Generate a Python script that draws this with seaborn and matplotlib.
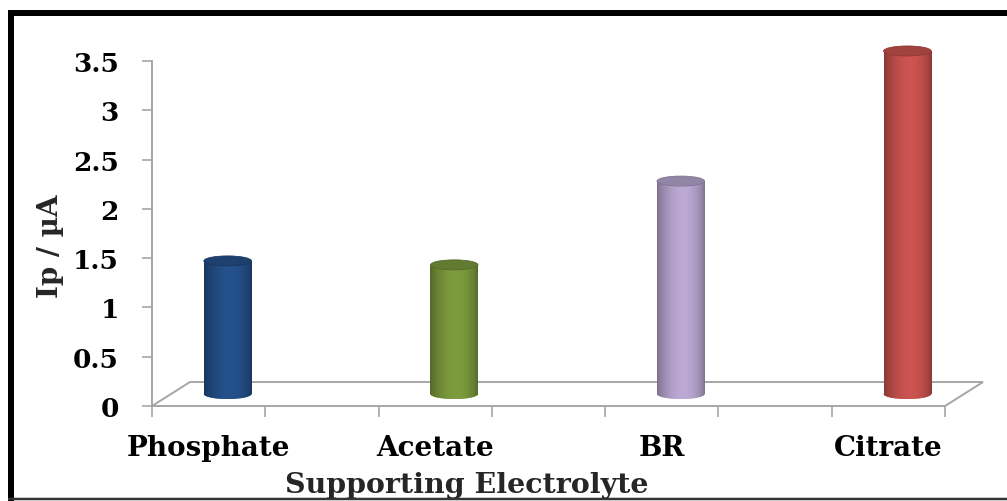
import numpy as np
import pandas as pd
import matplotlib
matplotlib.use("Agg")
import matplotlib.pyplot as plt
import matplotlib.transforms as mtransforms
from matplotlib.patches import Ellipse, Polygon, Rectangle
from matplotlib.lines import Line2D
from matplotlib.ticker import FixedLocator
from matplotlib.colors import to_rgb
import seaborn as sns

# ---- data ----
categories = ["Phosphate", "Acetate", "BR", "Citrate"]
peak_current = [1.35, 1.31, 2.16, 3.48]
bar_colors = ["#24508A", "#7A9A3C", "#B8A6D0", "#C9524F"]
y_ticks = [0, 0.5, 1, 1.5, 2, 2.5, 3, 3.5]
y_tick_labels = ["0", "0.5", "1", "1.5", "2", "2.5", "3", "3.5"]

sns.set_style("white")
plt.rcParams["font.family"] = ["DejaVu Serif"]
plt.rcParams["font.weight"] = "bold"
plt.rcParams["axes.labelweight"] = "bold"

W, H, DPI = 1007, 502, 100
fig = plt.figure(figsize=(W / DPI, H / DPI), dpi=DPI)
fig.patch.set_facecolor("white")

AX_L, AX_R, AX_T, AX_B = 152, 945, 62, 407
ax = fig.add_axes([AX_L / W, (H - AX_B) / H, (AX_R - AX_L) / W, (AX_B - AX_T) / H])

df = pd.DataFrame({"electrolyte": categories, "ip": peak_current})
sns.barplot(data=df, x="electrolyte", y="ip", hue="electrolyte",
            palette=bar_colors, width=0.21, saturation=1, legend=False,
            linewidth=0, ax=ax, zorder=3)
bars = sorted([p for p in ax.patches if isinstance(p, Rectangle)],
              key=lambda p: p.get_x())

X0, X1 = -0.25, 3.25
ax.set_xlim(X0, X1)
ax.set_ylim(0, 3.5)

# pixel size of one data unit (axes geometry is fixed)
px_x = (AX_R - AX_L) / (X1 - X0)
px_y = (AX_B - AX_T) / 3.5

# depth offsets of the pseudo-3D floor
mid = mtransforms.ScaledTranslation(19 / DPI, 12 / DPI, fig.dpi_scale_trans)
BACK_DX, BACK_DY = 38, 24

grey = "#A6A6A6"

# floor outline
floor = Polygon([(X0, 0), (X1, 0),
                 (X1 + BACK_DX / px_x, BACK_DY / px_y),
                 (X0 + BACK_DX / px_x, BACK_DY / px_y)],
                closed=True, fill=False, edgecolor=grey, lw=1.4,
                clip_on=False, zorder=1)
ax.add_patch(floor)


def cylinder_shade(rgb, n=96):
    t = np.linspace(0, 1, n)
    f = 0.68 + 0.34 * np.sin(np.pi * t ** 1.15) ** 0.7
    img = np.clip(np.array(rgb)[None, None, :] * f[None, :, None], 0, 1)
    return img


ell_h = 10 / px_y
for patch, val, col in zip(bars, peak_current, bar_colors):
    rgb = to_rgb(col)
    tr = ax.transData + mid
    patch.set_transform(tr)
    xl, w = patch.get_x(), patch.get_width()
    cx = xl + w / 2
    img = cylinder_shade(rgb)

    # bottom rim of the cylinder
    base = Ellipse((cx, 0), w, ell_h, transform=tr, facecolor=col,
                   edgecolor="none", zorder=2.9, clip_on=False)
    ax.add_patch(base)
    im_b = ax.imshow(img, extent=[xl, xl + w, -ell_h, ell_h], aspect="auto",
                     interpolation="bilinear", zorder=2.95)
    im_b.set_transform(tr)
    im_b.set_clip_path(base)

    # cylinder body
    im = ax.imshow(img, extent=[xl, xl + w, 0, val], aspect="auto",
                   interpolation="bilinear", zorder=3.1)
    im.set_transform(tr)
    im.set_clip_path(patch)
    patch.set_clip_on(False)

    # top cap
    cap_rgb = tuple(c * 0.8 for c in rgb)
    cap = Ellipse((cx, val), w, ell_h, transform=tr, facecolor=cap_rgb,
                  edgecolor=tuple(c * 0.7 for c in rgb), lw=0.6,
                  zorder=4, clip_on=False)
    ax.add_patch(cap)

ax.set_xlim(X0, X1)
ax.set_ylim(0, 3.5)

# axes styling
for s in ("top", "right", "bottom"):
    ax.spines[s].set_visible(False)
ax.spines["left"].set_color(grey)
ax.spines["left"].set_linewidth(1.4)

ax.set_yticks(y_ticks, y_tick_labels)
ax.tick_params(axis="y", left=True, length=7, width=1.2, color=grey, pad=17,
               labelsize=19, labelcolor="black")
ax.xaxis.set_minor_locator(FixedLocator(np.arange(X0, X1 + 0.01, 0.5)))
ax.tick_params(axis="x", which="major", bottom=True, length=0, pad=20,
               labelsize=20, labelcolor="black")
ax.tick_params(axis="x", which="minor", bottom=True, length=8, width=1.2,
               color=grey)

ax.set_ylabel("Ip / µA", fontsize=20, fontweight="bold")
ax.yaxis.set_label_coords((64 - AX_L) / (AX_R - AX_L), (AX_B - 246) / (AX_B - AX_T))
ax.set_xlabel("Supporting Electrolyte", fontsize=20.5, fontweight="bold")
ax.xaxis.set_label_coords((467 - AX_L) / (AX_R - AX_L), (AX_B - 472) / (AX_B - AX_T))
ax.patch.set_alpha(0)


# outer frame
def fx(px):
    return px / W


def fy(py):
    return 1 - py / H


fig.add_artist(Line2D([fx(11), fx(11)], [fy(14), fy(502)], color="black",
                      lw=6 * 0.72, solid_capstyle="butt", zorder=10))
fig.add_artist(Line2D([fx(8), fx(1007)], [fy(14), fy(14)], color="black",
                      lw=6 * 0.72, solid_capstyle="butt", zorder=10))
fig.add_artist(Line2D([fx(8), fx(1007)], [fy(500), fy(500)], color="#333333",
                      lw=2.5 * 0.72, solid_capstyle="butt", zorder=10))

fig.savefig("out.png", dpi=DPI)
